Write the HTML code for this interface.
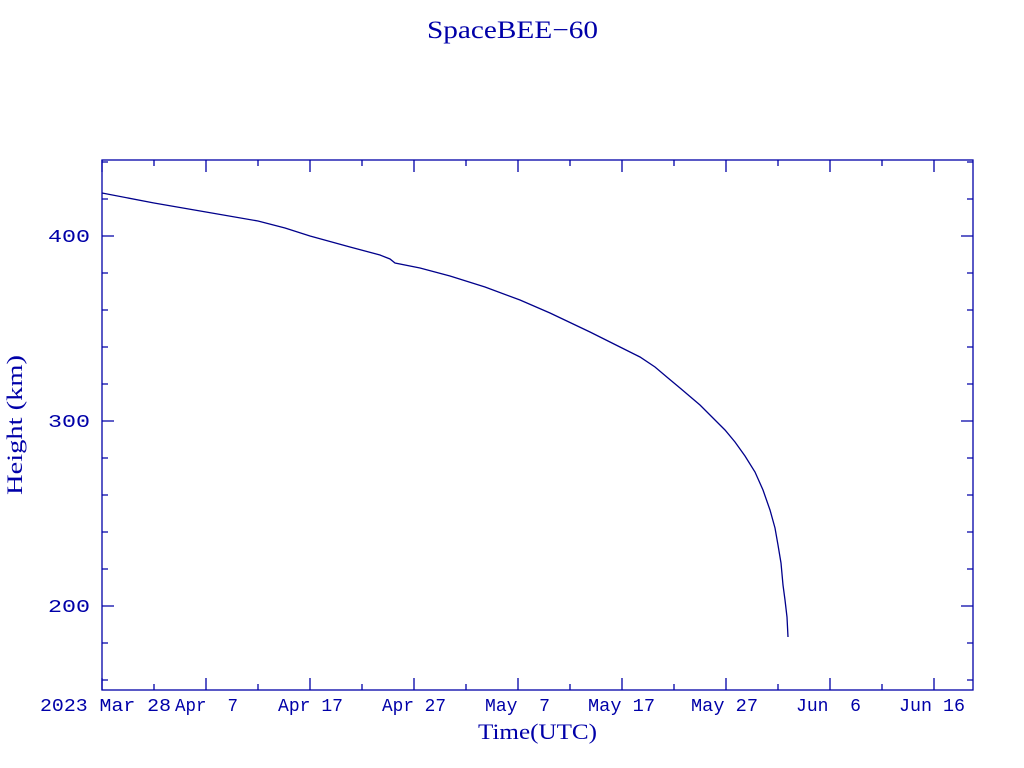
<!DOCTYPE html>
<html><head><meta charset="utf-8"><style>
html,body{margin:0;padding:0;background:#fff;}
svg{display:block;}
text{font-family:"Liberation Serif",serif;fill:#0000a8;white-space:pre;}
.m{font-family:"Liberation Mono",monospace;}
</style></head><body>
<svg id="s" width="1024" height="768" xmlns="http://www.w3.org/2000/svg" xml:space="preserve">
<rect x="0" y="0" width="1024" height="768" fill="#fff"/>
<text x="427" y="38" font-size="25" textLength="171" lengthAdjust="spacingAndGlyphs">SpaceBEE−60</text>
<rect x="102" y="160" width="871" height="530" fill="none" stroke="#0000a8" stroke-width="1.3"/>
<g id="ticks" stroke="#0000a8" stroke-width="1.3"></g>
<g font-size="18" class="m">
<text class="m" x="48" y="242" textLength="42" lengthAdjust="spacingAndGlyphs">400</text>
<text class="m" x="48" y="427" textLength="42" lengthAdjust="spacingAndGlyphs">300</text>
<text class="m" x="48" y="612" textLength="42" lengthAdjust="spacingAndGlyphs">200</text>
</g>
<g font-size="18">
<text class="m" x="40" y="711" textLength="131" lengthAdjust="spacingAndGlyphs">2023 Mar 28</text>
<text class="m" x="175" y="711" textLength="63" lengthAdjust="spacingAndGlyphs">Apr  7</text>
<text class="m" x="278" y="711" textLength="65" lengthAdjust="spacingAndGlyphs">Apr 17</text>
<text class="m" x="382" y="711" textLength="64" lengthAdjust="spacingAndGlyphs">Apr 27</text>
<text class="m" x="485" y="711" textLength="65" lengthAdjust="spacingAndGlyphs">May  7</text>
<text class="m" x="588" y="711" textLength="67" lengthAdjust="spacingAndGlyphs">May 17</text>
<text class="m" x="691" y="711" textLength="67" lengthAdjust="spacingAndGlyphs">May 27</text>
<text class="m" x="796" y="711" textLength="65" lengthAdjust="spacingAndGlyphs">Jun  6</text>
<text class="m" x="899" y="711" textLength="66" lengthAdjust="spacingAndGlyphs">Jun 16</text>
</g>
<text x="478" y="739" font-size="22" textLength="119" lengthAdjust="spacingAndGlyphs">Time(UTC)</text>
<text transform="translate(22,495) rotate(-90)" font-size="22" textLength="140" lengthAdjust="spacingAndGlyphs">Height (km)</text>
<polyline fill="none" stroke="#00008b" stroke-width="1.3" points="102,193 154,203 206,212 258,221 285,228 310,236 350,247 380,255 390,259 395,263 420,268 450,276 485,287 520,300 550,313 590,332 620,347 640,357 655,367 668,378 680,388 700,405 713,418 725,430 735,442 745,456 755,472 763,490 770,510 775,528 778,545 781,563 783,585 785,600 787,617 788,637"/>
</svg>
<script>
var g=document.getElementById('ticks'),d='';
for(var k=0;k<=16;k++){var x=102+52*k;var L=(k%2==0)?12:6;
d+='M'+x+' 690V'+(690-L)+'M'+x+' 160V'+(160+L);}
for(var v=160;v<=440;v+=20){var y=236+(400-v)*1.85;if(y<160||y>690)continue;var L=(v%100==0)?12:6;
d+='M102 '+y+'H'+(102+L)+'M973 '+y+'H'+(973-L);}
var p=document.createElementNS('http://www.w3.org/2000/svg','path');p.setAttribute('d',d);p.setAttribute('fill','none');g.appendChild(p);
</script>
</body></html>
